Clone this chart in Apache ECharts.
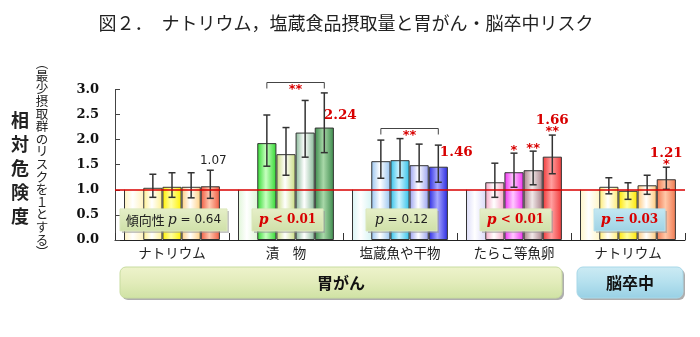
<!DOCTYPE html>
<html>
<head>
<meta charset="utf-8">
<script src="https://cdn.jsdelivr.net/npm/echarts@6/dist/echarts.min.js"></script>
<style>
  html, body { margin: 0; padding: 0; background: #fff; }
  #chart { width: 700px; height: 337px; }
</style>
</head>
<body>
<div id="chart"></div>
<script>
// ---- data ----
const categories = ['ナトリウム', '漬　物', '塩蔵魚や干物', 'たらこ等魚卵', 'ナトリウム'];
const refValues = [1, 1, 1, 1, 1];                  // lowest-intake group (reference)
const q2Values = [1.04, 1.93, 1.57, 1.15, 1.06];
const q3Values = [1.06, 1.71, 1.59, 1.35, 0.98];
const q4Values = [1.06, 2.14, 1.49, 1.39, 1.09];
const q5Values = [1.07, 2.24, 1.46, 1.66, 1.21];
// 95% confidence intervals, groups 2..5 of each category
const ciLow = [
  [0.85, 0.85, 0.84, 0.83],
  [1.47, 1.29, 1.65, 1.74],
  [1.23, 1.24, 1.16, 1.15],
  [0.85, 1.05, 1.10, 1.32],
  [0.92, 0.81, 0.91, 1.01]
];
const ciHigh = [
  [1.31, 1.34, 1.34, 1.39],
  [2.49, 2.24, 2.78, 2.93],
  [1.99, 2.02, 1.91, 1.89],
  [1.53, 1.73, 1.77, 2.09],
  [1.24, 1.14, 1.29, 1.45]
];
const starMarks = [
  ['', '', '', ''],
  ['', '', '', ''],
  ['', '', '', ''],
  ['', '*', '**', '**'],
  ['', '', '', '*']
];
// significance brackets: category, height, mark (spanning groups 2..5)
const bracketCats = [1, 2];
const bracketHeights = [3.15, 2.24];
const bracketMarks = ['**', '**'];
const trendLabels = ['傾向性', '', '', '', ''];
const trendOps = ['=', '<', '=', '<', '='];
const trendPValues = ['0.64', '0.01', '0.12', '0.01', '0.03'];
const trendSignificant = [false, true, false, true, true];
const valueLabelRed = [false, true, true, true, true];
const diseaseGroups = ['胃がん', '脳卒中'];
const titleText = '図２．　ナトリウム，塩蔵食品摂取量と胃がん・脳卒中リスク';
const yTitle = '相対危険度';
const ySubTitle = '︵最少摂取群のリスクを１とする︶';

// ---- styling ----
const RED = '#d80000';
const CAT_GAP = 0.16;
const palette = [
  // [edge, light] per bar within each category
  [['#fff3c0', '#ffffff'], ['#fff090', '#ffffff'], ['#fff000', '#ffffa0'], ['#ffcf80', '#ffffff'], ['#f05a40', '#ffc8b0']],
  [['#e0f6d8', '#ffffff'], ['#30d830', '#c8ffc0'], ['#c8dc80', '#ffffff'], ['#88b898', '#ffffff'], ['#3c8a4c', '#a8d8a8']],
  [['#d8f4f4', '#ffffff'], ['#98c4f0', '#ffffff'], ['#30c0e8', '#d0f4ff'], ['#98a0f0', '#ffffff'], ['#2828e0', '#a8a8ff']],
  [['#dcdcf8', '#ffffff'], ['#f4a8c4', '#ffffff'], ['#f030f0', '#ffc8ff'], ['#a88088', '#f0e8e8'], ['#f03838', '#ffa0a0']],
  [['#fff6c8', '#ffffff'], ['#ffec70', '#ffffff'], ['#ffe400', '#ffffa0'], ['#ffc878', '#ffffff'], ['#f07850', '#ffc8a8']]
];

function grad(c) {
  return new echarts.graphic.LinearGradient(0, 0, 1, 0, [
    { offset: 0, color: c[0] },
    { offset: 0.45, color: c[1] },
    { offset: 1, color: c[0] }
  ]);
}

const valueSets = [refValues, q2Values, q3Values, q4Values, q5Values];

function barSeries(s) {
  return {
    type: 'bar',
    name: 'g' + s,
    barGap: '0%',
    barCategoryGap: (CAT_GAP * 100) + '%',
    z: 2,
    data: valueSets[s].map((v, c) => {
      const item = {
        value: v,
        itemStyle: {
          color: grad(palette[c][s]),
          borderColor: s === 0 ? 'transparent' : '#333',
          borderWidth: s === 0 ? 0 : 1
        }
      };
      if (s === 4) {
        const red = valueLabelRed[c];
        const offsets = [[3, -14], [16, 0], [18, -2], [0, -24], [0, -14]];
        item.label = {
          show: true,
          position: 'top',
          offset: offsets[c],
          formatter: p => p.value.toFixed(2),
          color: red ? RED : '#222',
          fontFamily: red ? 'DejaVu Serif' : 'DejaVu Sans',
          fontWeight: red ? 'bold' : 'normal',
          fontSize: red ? 13.5 : 12
        };
      }
      return item;
    })
  };
}

// bar centre of group s (0..4) inside a category
function barX(api, cat, s) {
  const c = api.coord([cat, 0]);
  const band = api.size([1, 0])[0];
  const bw = band * (1 - CAT_GAP) / 5;
  return { x: c[0] + (s - 2) * bw, bw: bw, cx: c[0] };
}

const errData = [];
ciLow.forEach((row, c) => row.forEach((lo, i) => errData.push([c, i + 1, lo, ciHigh[c][i]])));

const lineStyle = { stroke: '#333', lineWidth: 1.5 };

const errSeries = {
  type: 'custom',
  name: 'ci',
  z: 5,
  clip: false,
  data: errData,
  encode: { x: 0, y: [2, 3] },
  renderItem(params, api) {
    const cat = api.value(0), s = api.value(1);
    const x = barX(api, cat, s).x;
    const yLo = api.coord([cat, api.value(2)])[1];
    const yHi = api.coord([cat, api.value(3)])[1];
    const cap = 3.5;
    const children = [
      { type: 'line', shape: { x1: x, y1: yLo, x2: x, y2: yHi }, style: lineStyle },
      { type: 'line', shape: { x1: x - cap, y1: yHi, x2: x + cap, y2: yHi }, style: lineStyle },
      { type: 'line', shape: { x1: x - cap, y1: yLo, x2: x + cap, y2: yLo }, style: lineStyle }
    ];
    const mark = starMarks[cat][s - 1];
    if (mark) {
      children.push({
        type: 'text',
        style: { text: mark, x: x, y: yHi - 3, align: 'center', verticalAlign: 'middle',
                 fill: RED, font: 'bold 13px "DejaVu Sans"' }
      });
    }
    return { type: 'group', children };
  }
};

const refEdgeSeries = {
  type: 'custom',
  name: 'refEdge',
  z: 4,
  data: refValues.map((v, c) => [c, v]),
  encode: { x: 0, y: 1 },
  renderItem(params, api) {
    const cat = api.value(0);
    const g = barX(api, cat, 0);
    const x = Math.round(g.x - g.bw / 2) + 0.5;
    return {
      type: 'line',
      shape: { x1: x, y1: api.coord([cat, 0])[1], x2: x, y2: api.coord([cat, api.value(1)])[1] },
      style: { stroke: '#333', lineWidth: 1 }
    };
  }
};

const bracketSeries = {
  type: 'custom',
  name: 'bracket',
  z: 5,
  clip: false,
  data: bracketCats.map((c, i) => [c, bracketHeights[i]]),
  encode: { x: 0, y: 1 },
  renderItem(params, api) {
    const cat = api.value(0);
    const x1 = barX(api, cat, 1).x, x2 = barX(api, cat, 4).x;
    const y = Math.round(api.coord([cat, api.value(1)])[1]) + 0.5;
    const st = { stroke: '#444', lineWidth: 1 };
    return {
      type: 'group',
      children: [
        { type: 'polyline', shape: { points: [[x1, y + 6], [x1, y], [x2, y], [x2, y + 6]] }, style: { ...st, fill: null } },
        { type: 'text', style: { text: bracketMarks[params.dataIndex], x: (x1 + x2) / 2, y: y + 7,
          align: 'center', verticalAlign: 'middle', fill: RED, font: 'bold 13px "DejaVu Sans"' } }
      ]
    };
  }
};

const pBoxSeries = {
  type: 'custom',
  name: 'trend',
  z: 6,
  data: categories.map((c, i) => [i, 0.4]),
  encode: { x: 0, y: 1 },
  renderItem(params, api) {
    const cat = api.value(0);
    const i = params.dataIndex;
    const cx = api.coord([cat, 0])[0] + 1.5;
    const cy = api.coord([cat, api.value(1)])[1];
    const w = trendLabels[i] ? 107 : 71, h = 22;
    const blue = i === 4;
    const fill = new echarts.graphic.LinearGradient(0, 0, 0, 1, blue
      ? [{ offset: 0, color: '#c4e8f2' }, { offset: 1, color: '#9ed2e4' }]
      : [{ offset: 0, color: '#e6efc8' }, { offset: 1, color: '#cfe0a8' }]);
    const sig = trendSignificant[i];
    let text = '';
    if (trendLabels[i]) text += '{j|' + trendLabels[i] + ' }';
    text += (sig ? '{pr|p}{nr| ' : '{p|p}{n| ') + trendOps[i] + ' ' + trendPValues[i] + '}';
    return {
      type: 'group',
      children: [
        { type: 'rect', shape: { x: cx - w / 2 + 2, y: cy - h / 2 + 2, width: w, height: h }, style: { fill: 'rgba(150,150,150,0.55)' } },
        { type: 'rect', shape: { x: cx - w / 2, y: cy - h / 2, width: w, height: h },
          style: { fill: fill, stroke: blue ? '#b8e0ec' : '#dce8bc', lineWidth: 1 } },
        { type: 'text', style: {
          text: text, x: cx, y: cy, align: 'center', verticalAlign: 'middle',
          rich: {
            j: { fontFamily: 'Noto Sans CJK JP', fontSize: 13, fill: '#222' },
            p: { fontFamily: 'DejaVu Serif', fontStyle: 'italic', fontSize: 14, fill: '#222' },
            n: { fontFamily: 'DejaVu Sans', fontSize: 12, fill: '#222' },
            pr: { fontFamily: 'DejaVu Serif', fontStyle: 'italic', fontWeight: 'bold', fontSize: 14, fill: RED },
            nr: { fontFamily: 'DejaVu Serif', fontWeight: 'bold', fontSize: 12, fill: RED }
          }
        } }
      ]
    };
  }
};

const series = [0, 1, 2, 3, 4].map(barSeries);
series[0].markLine = {
  silent: true,
  symbol: 'none',
  z: 10,
  label: { show: false },
  lineStyle: { color: RED, width: 1.5, type: 'solid' },
  data: [{ yAxis: 1 }]
};
series.push(refEdgeSeries, errSeries, bracketSeries, pBoxSeries);

function banner(x, w, text, colors, edge) {
  return {
    type: 'group',
    children: [
      { type: 'rect', shape: { x: x + 2, y: 269, width: w, height: 31, r: 6 }, style: { fill: 'rgba(120,120,120,0.6)' } },
      { type: 'rect', shape: { x: x, y: 267, width: w, height: 31, r: 6 },
        style: { fill: new echarts.graphic.LinearGradient(0, 0, 0, 1, [
          { offset: 0, color: colors[0] }, { offset: 0.5, color: colors[1] }, { offset: 1, color: colors[2] }]),
          stroke: edge, lineWidth: 1 } },
      { type: 'text', style: { text: text, x: x + w / 2, y: 283, align: 'center', verticalAlign: 'middle',
        font: 'bold 16px "Noto Sans CJK JP"', fill: '#111' } }
    ]
  };
}

const chart = echarts.init(document.getElementById('chart'), null, { renderer: 'canvas' });
chart.setOption({
  animation: false,
  backgroundColor: '#fff',
  grid: { left: 115, right: 15, top: 89.4, bottom: 97 },
  xAxis: {
    type: 'category',
    data: categories,
    axisLine: { lineStyle: { color: '#222', width: 1 } },
    axisTick: { show: true, inside: true, length: 7, lineStyle: { color: '#333' } },
    axisLabel: { margin: 6, fontFamily: 'Noto Sans CJK JP', fontSize: 13.5, color: '#222' }
  },
  yAxis: {
    type: 'value',
    min: 0, max: 3, interval: 0.5,
    axisLine: { show: true, lineStyle: { color: '#444' } },
    axisTick: { show: true, inside: true, length: 5, lineStyle: { color: '#444' } },
    splitLine: { show: false },
    axisLabel: { margin: 16, formatter: v => v.toFixed(1), fontFamily: 'DejaVu Serif', fontWeight: 'bold', fontSize: 13, color: '#111' }
  },
  series: series,
  graphic: [
    { type: 'text', style: { text: titleText, x: 346, y: 23, align: 'center', verticalAlign: 'middle',
      font: '18px "Noto Sans CJK JP"', fill: '#222' } },
    { type: 'text', style: { text: yTitle.split('').join('\n'), x: 20, y: 168, align: 'center', verticalAlign: 'middle',
      font: 'bold 18px "Noto Sans CJK JP"', lineHeight: 24, fill: '#222' } },
    { type: 'text', style: { text: ySubTitle.split('').join('\n'), x: 42, y: 158, align: 'center', verticalAlign: 'middle',
      font: '12.5px "Noto Sans CJK JP"', lineHeight: 12.6, fill: '#222' } },
    banner(120, 442, diseaseGroups[0], ['#eef3cc', '#e2ecba', '#cfe2a4'], '#c8dca0'),
    banner(577, 106, diseaseGroups[1], ['#cdebf4', '#b4e0ee', '#98d0e4'], '#a8d8e8')
  ]
});
</script>
</body>
</html>
